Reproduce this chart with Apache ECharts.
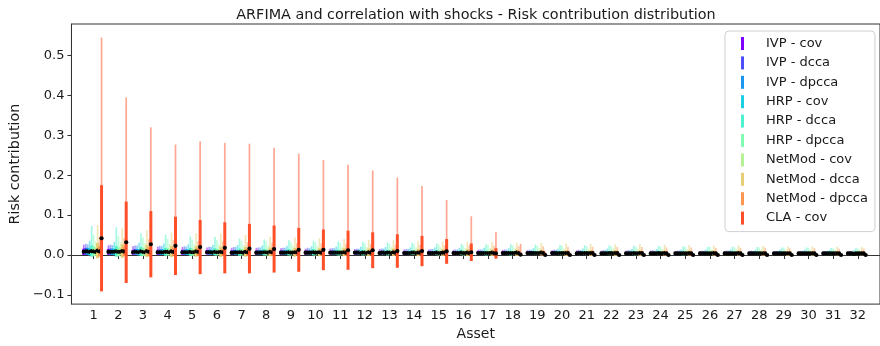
<!DOCTYPE html>
<html><head><meta charset="utf-8">
<script src="https://cdn.jsdelivr.net/npm/echarts@6/dist/echarts.min.js"></script>
<style>html,body{margin:0;padding:0;background:#fff}#c{width:880px;height:346px}</style>
</head><body><div id="c"></div>
<script>
const assets = [1,2,3,4,5,6,7,8,9,10,11,12,13,14,15,16,17,18,19,20,21,22,23,24,25,26,27,28,29,30,31,32];
const seriesNames = ['IVP - cov','IVP - dcca','IVP - dpcca','HRP - cov','HRP - dcca','HRP - dpcca','NetMod - cov','NetMod - dcca','NetMod - dpcca','CLA - cov'];
const seriesColors = ['#8000ff','#4d4ffc','#1a96f2','#1acee3','#4df2ce','#80ffb4','#b3f296','#e6ce74','#ff964f','#ff4f28'];
const yTicks = [-0.1,0.0,0.1,0.2,0.3,0.4,0.5];

// minimum risk contribution (all methods)
const minAll = [0,0,0,0,0,0,0,0,0,0,0,0,0,0,0,0,0,0,0,0,0,0,0,0,0,0,0,0,0,0,0,0];

const ivpCovMean = [0.008,0.008,0.007,0.007,0.007,0.007,0.006,0.006,0.006,0.006,0.006,0.006,0.005,0.005,0.005,0.005,0.005,0.005,0.005,0.005,0.004,0.004,0.004,0.004,0.004,0.004,0.004,0.004,0.004,0.004,0.004,0.004];
const ivpCovStd  = [0.008,0.007,0.006,0.006,0.006,0.005,0.005,0.005,0.005,0.005,0.004,0.004,0.004,0.004,0.004,0.004,0.004,0.004,0.003,0.003,0.003,0.003,0.003,0.003,0.003,0.003,0.003,0.003,0.003,0.003,0.002,0.002];
const ivpCovMax  = [0.026,0.024,0.022,0.021,0.020,0.019,0.018,0.018,0.017,0.016,0.016,0.015,0.015,0.014,0.014,0.013,0.013,0.013,0.012,0.012,0.012,0.011,0.011,0.011,0.010,0.010,0.010,0.010,0.009,0.009,0.009,0.009];

const ivpDccaMean = [0.009,0.008,0.008,0.007,0.007,0.007,0.006,0.006,0.006,0.006,0.006,0.006,0.006,0.005,0.005,0.005,0.005,0.005,0.005,0.005,0.005,0.004,0.004,0.004,0.004,0.004,0.004,0.004,0.004,0.004,0.004,0.004];
const ivpDccaStd  = [0.009,0.008,0.007,0.007,0.006,0.006,0.006,0.005,0.005,0.005,0.005,0.005,0.004,0.004,0.004,0.004,0.004,0.004,0.004,0.004,0.003,0.003,0.003,0.003,0.003,0.003,0.003,0.003,0.003,0.003,0.003,0.003];
const ivpDccaMax  = [0.028,0.026,0.024,0.023,0.022,0.021,0.020,0.019,0.018,0.018,0.017,0.016,0.016,0.015,0.015,0.014,0.014,0.014,0.013,0.013,0.013,0.012,0.012,0.012,0.011,0.011,0.011,0.011,0.010,0.010,0.010,0.010];

const ivpDpccaMean = [0.009,0.008,0.008,0.007,0.007,0.007,0.007,0.006,0.006,0.006,0.006,0.006,0.006,0.005,0.005,0.005,0.005,0.005,0.005,0.005,0.005,0.004,0.004,0.004,0.004,0.004,0.004,0.004,0.004,0.004,0.004,0.004];
const ivpDpccaStd  = [0.009,0.008,0.007,0.007,0.007,0.006,0.006,0.006,0.005,0.005,0.005,0.005,0.005,0.004,0.004,0.004,0.004,0.004,0.004,0.004,0.004,0.003,0.003,0.003,0.003,0.003,0.003,0.003,0.003,0.003,0.003,0.003];
const ivpDpccaMax  = [0.027,0.025,0.024,0.022,0.021,0.020,0.020,0.019,0.018,0.017,0.017,0.016,0.016,0.015,0.015,0.014,0.014,0.013,0.013,0.013,0.012,0.012,0.012,0.011,0.011,0.011,0.011,0.010,0.010,0.010,0.010,0.009];

const hrpCovMean = [0.008,0.008,0.007,0.007,0.007,0.006,0.006,0.006,0.006,0.006,0.006,0.005,0.005,0.005,0.005,0.005,0.005,0.005,0.005,0.004,0.004,0.004,0.004,0.004,0.004,0.004,0.004,0.004,0.004,0.004,0.004,0.003];
const hrpCovStd  = [0.009,0.008,0.008,0.007,0.007,0.006,0.006,0.006,0.006,0.005,0.005,0.005,0.005,0.005,0.004,0.004,0.004,0.004,0.004,0.004,0.004,0.004,0.003,0.003,0.003,0.003,0.003,0.003,0.003,0.003,0.003,0.003];
const hrpCovMax  = [0.036,0.033,0.031,0.029,0.027,0.026,0.025,0.024,0.023,0.022,0.021,0.021,0.020,0.019,0.019,0.018,0.018,0.017,0.017,0.016,0.016,0.016,0.015,0.015,0.014,0.014,0.014,0.013,0.013,0.013,0.012,0.012];

const hrpDccaMean = [0.010,0.009,0.009,0.008,0.008,0.008,0.007,0.007,0.007,0.007,0.006,0.006,0.006,0.006,0.006,0.006,0.005,0.005,0.005,0.005,0.005,0.005,0.005,0.005,0.004,0.004,0.004,0.004,0.004,0.004,0.004,0.004];
const hrpDccaStd  = [0.014,0.013,0.011,0.010,0.010,0.009,0.009,0.008,0.008,0.008,0.007,0.007,0.007,0.006,0.006,0.006,0.006,0.006,0.005,0.005,0.005,0.005,0.005,0.005,0.005,0.004,0.004,0.004,0.004,0.004,0.004,0.004];
const hrpDccaMax  = [0.073,0.070,0.054,0.051,0.047,0.045,0.041,0.039,0.037,0.036,0.034,0.033,0.032,0.031,0.029,0.028,0.027,0.027,0.026,0.025,0.025,0.024,0.023,0.023,0.022,0.021,0.021,0.020,0.019,0.019,0.018,0.017];

const hrpDpccaMean = [0.009,0.008,0.008,0.008,0.007,0.007,0.007,0.007,0.006,0.006,0.006,0.006,0.006,0.006,0.005,0.005,0.005,0.005,0.005,0.005,0.005,0.005,0.004,0.004,0.004,0.004,0.004,0.004,0.004,0.004,0.004,0.004];
const hrpDpccaStd  = [0.012,0.011,0.010,0.009,0.009,0.008,0.008,0.008,0.007,0.007,0.007,0.006,0.006,0.006,0.006,0.006,0.005,0.005,0.005,0.005,0.005,0.005,0.005,0.004,0.004,0.004,0.004,0.004,0.004,0.004,0.004,0.004];
const hrpDpccaMax  = [0.051,0.047,0.044,0.041,0.039,0.037,0.035,0.034,0.032,0.031,0.030,0.029,0.028,0.027,0.026,0.025,0.025,0.024,0.023,0.023,0.022,0.022,0.021,0.021,0.020,0.020,0.019,0.019,0.018,0.018,0.017,0.017];

const netCovMean = [0.008,0.008,0.007,0.007,0.007,0.007,0.006,0.006,0.006,0.006,0.006,0.005,0.005,0.005,0.005,0.005,0.005,0.005,0.005,0.005,0.004,0.004,0.004,0.004,0.004,0.004,0.004,0.004,0.004,0.004,0.004,0.004];
const netCovStd  = [0.010,0.009,0.009,0.008,0.008,0.007,0.007,0.007,0.006,0.006,0.006,0.006,0.005,0.005,0.005,0.005,0.005,0.005,0.005,0.004,0.004,0.004,0.004,0.004,0.004,0.004,0.004,0.003,0.003,0.003,0.003,0.003];
const netCovMax  = [0.034,0.032,0.030,0.028,0.027,0.026,0.025,0.024,0.023,0.022,0.021,0.020,0.020,0.019,0.019,0.018,0.018,0.017,0.017,0.016,0.016,0.016,0.015,0.015,0.015,0.014,0.014,0.014,0.013,0.013,0.013,0.013];

const netDccaMean = [0.011,0.010,0.010,0.009,0.009,0.008,0.008,0.008,0.007,0.007,0.007,0.007,0.007,0.006,0.006,0.006,0.006,0.006,0.006,0.005,0.005,0.005,0.005,0.005,0.005,0.005,0.005,0.004,0.004,0.004,0.004,0.004];
const netDccaStd  = [0.019,0.017,0.015,0.014,0.013,0.013,0.012,0.011,0.011,0.010,0.010,0.009,0.009,0.009,0.008,0.008,0.008,0.008,0.007,0.007,0.007,0.007,0.007,0.006,0.006,0.006,0.006,0.006,0.006,0.006,0.005,0.005];
const netDccaMax  = [0.075,0.068,0.063,0.056,0.055,0.054,0.051,0.046,0.044,0.042,0.040,0.038,0.037,0.036,0.034,0.033,0.032,0.031,0.030,0.029,0.028,0.027,0.027,0.026,0.025,0.024,0.024,0.023,0.022,0.022,0.021,0.020];

const netDpccaMean = [0.009,0.009,0.008,0.008,0.008,0.007,0.007,0.007,0.007,0.006,0.006,0.006,0.006,0.006,0.006,0.005,0.005,0.005,0.005,0.005,0.005,0.005,0.005,0.004,0.004,0.004,0.004,0.004,0.004,0.004,0.004,0.004];
const netDpccaStd  = [0.013,0.012,0.011,0.010,0.010,0.009,0.009,0.009,0.008,0.008,0.008,0.007,0.007,0.007,0.007,0.006,0.006,0.006,0.006,0.006,0.006,0.005,0.005,0.005,0.005,0.005,0.005,0.005,0.005,0.004,0.004,0.004];
const netDpccaMax  = [0.046,0.043,0.040,0.037,0.035,0.034,0.032,0.031,0.030,0.029,0.028,0.027,0.026,0.025,0.024,0.024,0.023,0.022,0.022,0.021,0.021,0.020,0.020,0.019,0.019,0.018,0.018,0.018,0.017,0.017,0.016,0.016];

const claCovMean = [0.042,0.032,0.027,0.023,0.020,0.018,0.016,0.015,0.013,0.013,0.012,0.012,0.010,0.010,0.009,0.007,0.004,0.001,0.000,0.000,0.000,0.000,0.000,0.000,0.000,0.000,0.000,0.000,0.000,0.000,0.000,0.000];
const claCovStd  = [0.133,0.102,0.083,0.073,0.068,0.064,0.062,0.059,0.055,0.051,0.049,0.045,0.042,0.038,0.031,0.022,0.013,0.004,0.002,0.002,0.002,0.002,0.002,0.002,0.002,0.002,0.002,0.002,0.002,0.002,0.002,0.002];
const claCovMax  = [0.545,0.395,0.320,0.277,0.285,0.281,0.279,0.269,0.254,0.238,0.226,0.212,0.194,0.173,0.138,0.097,0.058,0.028,0.008,0.006,0.005,0.005,0.004,0.004,0.004,0.004,0.003,0.003,0.003,0.003,0.003,0.003];

const seriesStats = [
  [ivpCovMean, ivpCovStd, ivpCovMax],
  [ivpDccaMean, ivpDccaStd, ivpDccaMax],
  [ivpDpccaMean, ivpDpccaStd, ivpDpccaMax],
  [hrpCovMean, hrpCovStd, hrpCovMax],
  [hrpDccaMean, hrpDccaStd, hrpDccaMax],
  [hrpDpccaMean, hrpDpccaStd, hrpDpccaMax],
  [netCovMean, netCovStd, netCovMax],
  [netDccaMean, netDccaStd, netDccaMax],
  [netDpccaMean, netDpccaStd, netDpccaMax],
  [claCovMean, claCovStd, claCovMax]
];

const FONT = 'DejaVu Sans';
const TXT = '#1a1a1a';
const nSeries = seriesNames.length;
const groupWidth = 0.8;

function makeRenderer(idx) {
  const off = -groupWidth / 2 + idx * groupWidth / nSeries;
  const color = seriesColors[idx];
  return function (params, api) {
    const x = api.value(0) + off;
    const mean = api.value(1), sd = api.value(2), mx = api.value(3), mn = api.value(4);
    const pMin = api.coord([x, mn]), pMax = api.coord([x, mx]);
    const pLo = api.coord([x, mean - sd]), pHi = api.coord([x, mean + sd]);
    const pM = api.coord([x, mean]);
    return {
      type: 'group',
      children: [
        { type: 'line', shape: { x1: pMin[0], y1: pMin[1], x2: pMax[0], y2: pMax[1] },
          style: { stroke: color, lineWidth: 1.7, opacity: 0.5 } },
        { type: 'line', shape: { x1: pLo[0], y1: pLo[1], x2: pHi[0], y2: pHi[1] },
          style: { stroke: color, lineWidth: 3 } },
        { type: 'circle', shape: { cx: pM[0], cy: pM[1], r: 2.1 }, style: { fill: '#000' } }
      ]
    };
  };
}

const series = seriesNames.map((name, i) => {
  const [m, s, mx] = seriesStats[i];
  return {
    name: name,
    type: 'custom',
    renderItem: makeRenderer(i),
    itemStyle: { color: seriesColors[i] },
    encode: { x: 0, y: 1 },
    data: assets.map((a, k) => [a, m[k], s[k], mx[k], minAll[k]]),
    silent: true,
    animation: false
  };
});

const chart = echarts.init(document.getElementById('c'), null, { renderer: 'canvas' });
chart.setOption({
  animation: false,
  backgroundColor: '#fff',
  textStyle: { fontFamily: FONT },
  title: {
    text: 'ARFIMA and correlation with shocks - Risk contribution distribution',
    left: 471, top: 3, textAlign: 'center',
    textStyle: { fontFamily: FONT, fontSize: 14.4, fontWeight: 'normal', color: TXT }
  },
  grid: { left: 51, right: -11, top: 24, height: 288.5, show: true, borderColor: '#333', borderWidth: 1, backgroundColor: 'transparent' },
  legend: {
    orient: 'vertical', left: 725, top: 31,
    data: seriesNames.map(n => ({ name: n, icon: 'rect' })),
    itemWidth: 3, itemHeight: 13, itemGap: 6.4,
    padding: [6, 7, 7, 16],
    backgroundColor: 'rgba(255,255,255,0.85)', borderColor: '#d0d0d0', borderWidth: 1, borderRadius: 4,
    textStyle: { fontFamily: FONT, fontSize: 13, color: TXT, padding: [0, 0, 0, 17] },
    selectedMode: false
  },
  xAxis: {
    type: 'value', min: 0.1, max: 32.9,
    name: 'Asset', nameLocation: 'middle', nameGap: 19,
    nameTextStyle: { fontFamily: FONT, fontSize: 14, color: TXT },
    axisLine: { show: true, lineStyle: { color: '#333', width: 1 } },
    axisTick: { show: true, customValues: assets, length: 4, lineStyle: { color: '#333' } },
    axisLabel: { customValues: assets, fontFamily: FONT, fontSize: 13, color: TXT, margin: 5 },
    splitLine: { show: false }
  },
  yAxis: {
    type: 'value', min: -0.123, max: 0.579,
    name: 'Risk contribution', nameLocation: 'middle', nameGap: 31, nameRotate: 90,
    nameTextStyle: { fontFamily: FONT, fontSize: 14.3, color: TXT },
    axisLine: { show: true, lineStyle: { color: '#333', width: 1 } },
    axisTick: { show: true, customValues: yTicks, length: 4, lineStyle: { color: '#333' } },
    axisLabel: { customValues: yTicks, fontFamily: FONT, fontSize: 13, color: TXT, margin: 7,
      formatter: v => (v < 0 ? '\u2212' : '') + Math.abs(v).toFixed(1) },
    splitLine: { show: false }
  },
  series: series
});
</script>
</body></html>
